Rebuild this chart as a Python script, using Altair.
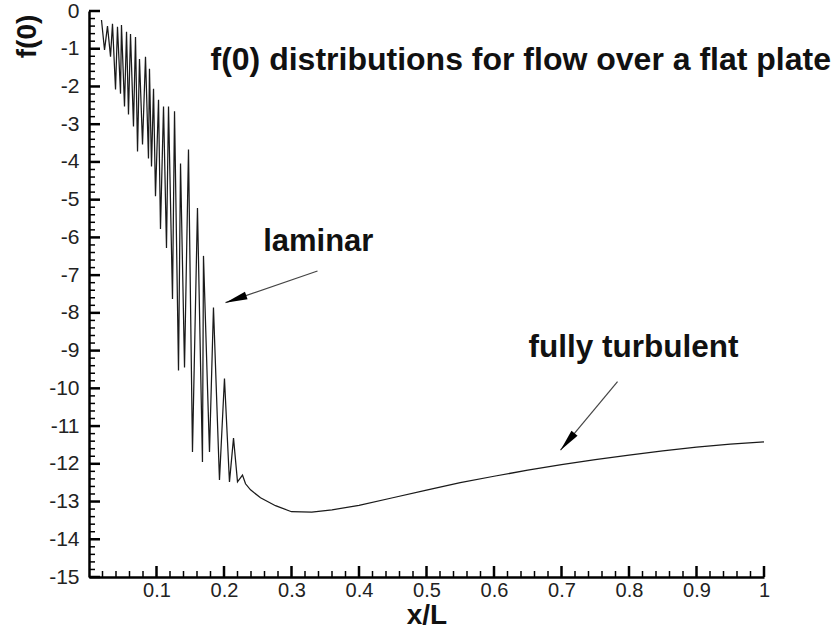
import altair as alt
import pandas as pd

# ---- data ----
# laminar (oscillating) part followed by the smooth fully-turbulent part
curve_x = [0.0185, 0.0230, 0.0274, 0.0319, 0.0348, 0.0393, 0.0422, 0.0467, 0.0481, 0.0526,
           0.0556, 0.0585, 0.0615, 0.0659, 0.0689, 0.0719, 0.0748, 0.0793, 0.0837, 0.0881,
           0.0896, 0.0926, 0.0956, 0.0985, 0.1030, 0.1059, 0.1104, 0.1148, 0.1178, 0.1237,
           0.1267, 0.1326, 0.1356, 0.1415, 0.1474, 0.1533, 0.1607, 0.1681, 0.1696, 0.1785,
           0.1844, 0.1933, 0.2007, 0.2081, 0.2141, 0.2200, 0.2274, 0.2319, 0.2393, 0.2541,
           0.2763, 0.30, 0.33, 0.36, 0.40, 0.45, 0.50, 0.55, 0.60, 0.65, 0.70, 0.75, 0.80,
           0.85, 0.90, 0.95, 1.00]
curve_f = [-0.24, -1.03, -0.40, -1.21, -0.34, -2.08, -0.42, -2.19, -0.37, -2.53,
           -0.55, -2.74, -0.61, -3.06, -0.69, -3.72, -1.27, -3.54, -1.21, -3.91,
           -1.53, -4.12, -2.06, -4.91, -2.35, -5.78, -2.53, -6.28, -2.53, -7.63,
           -2.66, -9.53, -4.04, -9.45, -3.67, -11.69, -5.22, -11.95, -6.49, -11.69,
           -7.86, -12.43, -9.74, -12.48, -11.32, -12.48, -12.30, -12.53, -12.69, -12.90,
           -13.11, -13.27, -13.28, -13.22, -13.10, -12.90, -12.70, -12.50, -12.33, -12.17,
           -12.02, -11.89, -11.77, -11.66, -11.56, -11.48, -11.42]

# axis ticks
x_major = [0.1, 0.2, 0.3, 0.4, 0.5, 0.6, 0.7, 0.8, 0.9, 1.0]
x_minor = [round(0.02 * k, 2) for k in range(1, 50) if k % 5 != 0]
y_major = [0, -1, -2, -3, -4, -5, -6, -7, -8, -9, -10, -11, -12, -13, -14, -15]
y_minor = [round(-0.2 * k, 1) for k in range(1, 75) if k % 5 != 0]

# annotations
ann_text = ["f(0) distributions for flow over a flat plate", "laminar", "fully turbulent"]
ann_x = [0.180, 0.258, 0.651]
ann_f = [-1.30, -6.13, -8.93]
ann_size = [32, 31, 31.5]

arrow_x0 = [0.3385, 0.783]
arrow_f0 = [-6.89, -9.82]
arrow_x1 = [0.2022, 0.6985]
arrow_f1 = [-7.73, -11.64]
arrow_angle = [250.7, 219.6]

W, H = 675, 566
FONT = "Liberation Sans"

xs = alt.Scale(domain=[0, 1], nice=False, zero=False)
ys = alt.Scale(domain=[-15, 0], nice=False, zero=False)

x_axis = alt.Axis(values=x_major, format="~g", ticks=False, grid=False,
                  domainColor="black", domainWidth=2.5,
                  labelFont=FONT, labelFontSize=20, labelColor="#222",
                  labelPadding=3, labelFlush=False,
                  titleFont=FONT, titleFontSize=28, titleFontWeight="bold",
                  titleColor="#111", titleY=38, titleBaseline="middle")
y_axis = alt.Axis(values=y_major, labelExpr="toString(datum.value)",
                  ticks=False, grid=False,
                  domainColor="black", domainWidth=2.5,
                  labelFont=FONT, labelFontSize=21, labelColor="#222",
                  labelPadding=10, labelFlush=False,
                  titleFont=FONT, titleFontSize=28, titleFontWeight="bold",
                  titleColor="#111", titleAngle=270, titleAlign="center",
                  titleBaseline="middle", titleX=-62, titleY=25)

X = alt.X("x:Q", scale=xs, title="x/L", axis=x_axis)
Y = alt.Y("f:Q", scale=ys, title="f(0)", axis=y_axis)

curve = pd.DataFrame({"x": curve_x, "f": curve_f, "i": list(range(len(curve_x)))})

line = alt.Chart(curve).mark_line(color="#1a1a1a", strokeWidth=1.25).encode(
    x=X, y=Y, order="i:Q")

def yticks(vals, length, width):
    return alt.Chart(pd.DataFrame({"f": vals})).mark_rule(color="black", strokeWidth=width).encode(
        y=Y, x=alt.value(0), x2=alt.value(length))

def xticks(vals, length, width):
    return alt.Chart(pd.DataFrame({"x": vals})).mark_rule(color="black", strokeWidth=width).encode(
        x=X, y=alt.value(H), y2=alt.value(H - length))

ann = alt.Chart(pd.DataFrame({"x": ann_x, "f": ann_f, "t": ann_text, "s": ann_size})).mark_text(
    align="left", baseline="middle", font=FONT, fontWeight="bold", color="#111"
).encode(x=X, y=Y, text="t:N", size=alt.Size("s:Q", scale=None, legend=None))

arrow_lines = alt.Chart(pd.DataFrame({"x": arrow_x0, "f": arrow_f0,
                                      "x1": arrow_x1, "f1": arrow_f1})).mark_rule(
    color="#444", strokeWidth=1.2).encode(x=X, y=Y, x2="x1:Q", y2="f1:Q")
arrow_heads = alt.Chart(pd.DataFrame({"x": arrow_x1, "f": arrow_f1, "a": arrow_angle})).mark_point(
    shape="M0,0 L0.36,2 L-0.36,2 Z", filled=True, size=484, color="black", opacity=1
).encode(x=X, y=Y, angle=alt.Angle("a:Q", scale=None))

chart = alt.layer(
    line,
    yticks(y_minor, 6, 1.5), yticks(y_major, 11, 2.5),
    xticks(x_minor, 6, 1.5), xticks(x_major, 11, 2.5),
    arrow_lines, arrow_heads, ann,
).properties(
    width=W, height=H,
    autosize=alt.AutoSizeParams(type="none"),
    padding={"left": 89, "top": 11, "right": 73, "bottom": 54},
    background="white",
).configure_view(stroke=None)

chart.save("out.html", embed_options={"renderer": "svg", "actions": False})
